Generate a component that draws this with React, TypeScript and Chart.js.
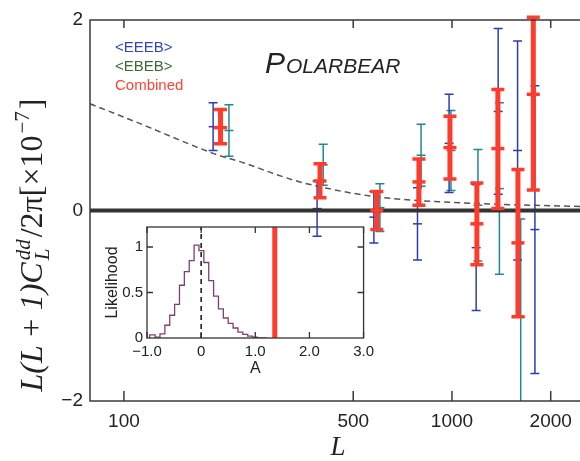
import React, { useEffect, useRef } from 'react';
import { Chart, registerables } from 'chart.js';

Chart.register(...registerables);

// ---------------- main panel data ----------------
const xTickValues = [100, 500, 1000, 2000];
const yTickValues = [-2, 0, 2];
const xMin = 78.8;
const xMax = 2562;
const yMin = -2;
const yMax = 2;

// <EEEB> estimator (blue)
const eeebL = [187, 388, 578, 785, 980, 1185, 1383, 1585, 1790];
const eeebValue = [0.88, 0.02, -0.07, -0.14, 0.705, -0.39, 1.04, 0.63, -0.2];
const eeebError = [0.25, 0.29, 0.27, 0.38, 0.515, 0.66, 0.87, 1.15, 1.51];

// <EBEB> estimator (teal)
const ebebL = [209, 405, 603, 805, 993, 1200, 1395, 1620];
const ebebValue = [0.84, 0.48, 0.03, 0.58, 0.63, 0.055, 0.23, -1.12];
const ebebError = [0.27, 0.215, 0.25, 0.325, 0.42, 0.585, 0.9, 1.03];

// Combined (red)
const combinedL = [197, 396, 590, 793, 986, 1191, 1380, 1589, 1770];
const combinedValue = [0.87, 0.31, 0.0, 0.3, 0.66, -0.14, 0.65, -0.34, 1.22];
const combinedLow = [0.7, 0.135, -0.2, 0.055, 0.33, -0.57, 0.02, -1.115, 0.215];
const combinedHigh = [1.06, 0.49, 0.2, 0.54, 0.99, 0.29, 1.27, 0.43, 2.03];

// theory (dashed)
const theoryL = [78.8, 100, 120, 150, 187, 237, 290, 344, 420, 500, 603, 750, 1000, 1400, 2000, 2562];
const theoryValue = [1.12, 0.98, 0.87, 0.73, 0.6, 0.49, 0.38, 0.3, 0.23, 0.18, 0.14, 0.11, 0.085, 0.065, 0.05, 0.04];

// ---------------- inset data ----------------
const insetXTicks = [-1, 0, 1, 2, 3];
const insetYTicks = [0, 0.5, 1];
const insetXMin = -1;
const insetXMax = 3;
const insetYMax = 1.22;
const histEdges = [-0.95, -0.85, -0.76, -0.67, -0.58, -0.49, -0.4, -0.31, -0.22, -0.13, -0.04, 0.05, 0.14, 0.23, 0.32, 0.41, 0.5, 0.59, 0.68, 0.77, 0.86, 0.95, 1.04, 1.13, 1.22];
const histLikelihood = [0, 0.035, 0.01, 0.045, 0.14, 0.25, 0.37, 0.58, 0.73, 0.85, 1.02, 0.96, 0.83, 0.63, 0.46, 0.32, 0.22, 0.16, 0.11, 0.065, 0.04, 0.02, 0.008, 0];
const measuredA = 1.36;

// ---------------- styles ----------------
const SANS = '"Liberation Sans", Arial, Helvetica, sans-serif';
const SERIF = '"Liberation Serif", "Times New Roman", serif';
const BLUE = '#2c3db3';
const TEAL = '#1f8890';
const RED = '#ff3b2b';
const INK = '#222222';

function errPoints(L: number[], v: number[], lo: number[], hi: number[]) {
  return L.map((l, i) => ({ x: l, y: v[i], yMin: lo[i], yMax: hi[i] }));
}
function symPoints(L: number[], v: number[], e: number[]) {
  return L.map((l, i) => ({ x: l, y: v[i], yMin: v[i] - e[i], yMax: v[i] + e[i] }));
}

const errorBarPlugin = {
  id: 'errorBars',
  beforeDatasetDraw(chart: any, args: any) {
    const ds = chart.data.datasets[args.index];
    if (!ds.errorBars) return;
    const { ctx, chartArea } = chart;
    const x = chart.scales.x;
    const y = chart.scales.y;
    const eb = ds.errorBars;
    ctx.save();
    ctx.beginPath();
    ctx.rect(chartArea.left, chartArea.top - 5, chartArea.right - chartArea.left, chartArea.bottom - chartArea.top + 5);
    ctx.clip();
    ctx.strokeStyle = eb.color;
    ds.data.forEach((p: any) => {
      const px = x.getPixelForValue(p.x);
      const top = y.getPixelForValue(p.yMax);
      const bot = y.getPixelForValue(p.yMin);
      ctx.lineWidth = eb.lineWidth;
      ctx.beginPath();
      ctx.moveTo(px, top);
      ctx.lineTo(px, bot);
      ctx.stroke();
      ctx.lineWidth = eb.capWidth;
      ctx.beginPath();
      ctx.moveTo(px - eb.capHalf, top);
      ctx.lineTo(px + eb.capHalf, top);
      ctx.moveTo(px - eb.capHalf, bot);
      ctx.lineTo(px + eb.capHalf, bot);
      ctx.stroke();
    });
    ctx.restore();
  },
};

function drawYTitle(ctx: CanvasRenderingContext2D) {
  const big = 32;
  const small = 21;
  const gap = 2;
  const itBig = `italic ${big}px ${SERIF}`;
  const upBig = `${big}px ${SERIF}`;
  const itSmall = `italic ${small}px ${SERIF}`;
  const upSmall = `${small}px ${SERIF}`;
  const pieces = [
    { t: 'L(L', f: itBig, dy: 0, stack: false },
    { t: '\u2009+\u2009', f: upBig, dy: 0, stack: false },
    { t: '1)C', f: itBig, dy: 0, stack: false },
    { t: 'L', f: itSmall, dy: 7, stack: true },
    { t: 'dd', f: itSmall, dy: -12, stack: false },
    { t: '/2\u03c0[\u00d710', f: upBig, dy: 0, stack: false },
    { t: '\u22127', f: upSmall, dy: -13, stack: false },
    { t: ']', f: upBig, dy: 0, stack: false },
  ];
  let total = 0;
  let pending = 0;
  const widths: number[] = [];
  pieces.forEach((p) => {
    ctx.font = p.f;
    const w = ctx.measureText(p.t).width;
    widths.push(w);
    if (p.stack) {
      pending = w;
    } else {
      total += Math.max(w, pending) + gap;
      pending = 0;
    }
  });
  total -= gap;
  ctx.save();
  ctx.translate(42, 245);
  ctx.rotate(-Math.PI / 2);
  ctx.fillStyle = INK;
  ctx.textBaseline = 'alphabetic';
  ctx.textAlign = 'left';
  let cx = -total / 2;
  pending = 0;
  pieces.forEach((p, i) => {
    ctx.font = p.f;
    ctx.fillText(p.t, cx, p.dy);
    if (p.stack) {
      pending = widths[i];
    } else {
      cx += Math.max(widths[i], pending) + gap;
      pending = 0;
    }
  });
  ctx.restore();
}

const mainDecorPlugin = {
  id: 'mainDecor',
  afterDraw(chart: any) {
    const { ctx, chartArea } = chart;
    const { left, right, top, bottom } = chartArea;
    const x = chart.scales.x;
    ctx.save();
    ctx.strokeStyle = '#3a3a3a';
    ctx.lineWidth = 1.5;
    ctx.strokeRect(left, top, right - left, bottom - top);
    ctx.beginPath();
    xTickValues.forEach((v) => {
      const px = x.getPixelForValue(v);
      ctx.moveTo(px, bottom);
      ctx.lineTo(px, bottom - 10);
      ctx.moveTo(px, top);
      ctx.lineTo(px, top + 8);
    });
    ctx.stroke();
    ctx.textBaseline = 'middle';
    ctx.textAlign = 'left';
    ctx.font = `15px ${SANS}`;
    ctx.fillStyle = '#3344bb';
    ctx.fillText('<EEEB>', 115, 48);
    ctx.fillStyle = '#3a6b30';
    ctx.fillText('<EBEB>', 115, 67);
    ctx.fillStyle = '#ff4433';
    ctx.fillText('Combined', 115, 86);
    ctx.textBaseline = 'alphabetic';
    ctx.fillStyle = INK;
    ctx.font = `italic 30px ${SANS}`;
    ctx.fillText('P', 265, 73);
    const wP = ctx.measureText('P').width;
    ctx.font = `italic 21px ${SANS}`;
    ctx.fillText('OLARBEAR', 265 + wP + 1, 73);
    ctx.restore();
    drawYTitle(ctx);
  },
};

const insetDecorPlugin = {
  id: 'insetDecor',
  afterDraw(chart: any) {
    const { ctx, chartArea } = chart;
    const { left, right, top, bottom } = chartArea;
    const x = chart.scales.x;
    const y = chart.scales.y;
    ctx.save();
    ctx.strokeStyle = '#333';
    ctx.lineWidth = 1.3;
    ctx.strokeRect(left, top, right - left, bottom - top);
    ctx.beginPath();
    insetXTicks.forEach((v) => {
      const px = x.getPixelForValue(v);
      ctx.moveTo(px, bottom);
      ctx.lineTo(px, bottom - 6);
      ctx.moveTo(px, top);
      ctx.lineTo(px, top + 6);
    });
    insetYTicks.forEach((v) => {
      if (v === 0) return;
      const py = y.getPixelForValue(v);
      ctx.moveTo(left, py);
      ctx.lineTo(left + 6, py);
      ctx.moveTo(right, py);
      ctx.lineTo(right - 6, py);
    });
    ctx.stroke();
    ctx.restore();
  },
};

function mainConfig(): any {
  return {
    type: 'scatter',
    data: {
      datasets: [
        {
          label: 'Combined',
          type: 'scatter',
          data: errPoints(combinedL, combinedValue, combinedLow, combinedHigh),
          pointStyle: 'line',
          pointRadius: 6.5,
          pointBorderWidth: 3.5,
          pointBorderColor: RED,
          pointBackgroundColor: RED,
          errorBars: { color: RED, lineWidth: 5, capHalf: 6.5, capWidth: 3.5 },
        },
        {
          label: 'zero',
          type: 'line',
          data: [
            { x: xMin, y: 0 },
            { x: xMax, y: 0 },
          ],
          borderColor: '#333333',
          borderWidth: 4,
          pointRadius: 0,
        },
        {
          label: '<EEEB>',
          type: 'scatter',
          data: symPoints(eeebL, eeebValue, eeebError),
          pointStyle: 'line',
          pointRadius: 4.5,
          pointBorderWidth: 1.5,
          pointBorderColor: BLUE,
          pointBackgroundColor: BLUE,
          errorBars: { color: BLUE, lineWidth: 1.5, capHalf: 4.5, capWidth: 1.5 },
        },
        {
          label: '<EBEB>',
          type: 'scatter',
          data: symPoints(ebebL, ebebValue, ebebError),
          pointStyle: 'line',
          pointRadius: 4.5,
          pointBorderWidth: 1.5,
          pointBorderColor: TEAL,
          pointBackgroundColor: TEAL,
          errorBars: { color: TEAL, lineWidth: 1.5, capHalf: 4.5, capWidth: 1.5 },
        },
        {
          label: 'theory',
          type: 'line',
          data: theoryL.map((l, i) => ({ x: l, y: theoryValue[i] })),
          borderColor: '#555555',
          borderWidth: 1.5,
          borderDash: [6, 4],
          pointRadius: 0,
          cubicInterpolationMode: 'monotone',
        },
      ],
    },
    options: {
      responsive: false,
      animation: false,
      events: [],
      layout: { padding: { left: 8, top: 20, right: 0, bottom: 0 } },
      plugins: { legend: { display: false }, tooltip: { enabled: false } },
      scales: {
        x: {
          type: 'logarithmic',
          position: 'bottom',
          min: xMin,
          max: xMax,
          afterBuildTicks: (s: any) => {
            s.ticks = xTickValues.map((v) => ({ value: v }));
          },
          afterFit: (s: any) => {
            s.height = 60;
          },
          grid: { display: false, drawTicks: false },
          border: { display: false },
          ticks: {
            callback: (v: any) => String(v),
            font: { family: SANS, size: 19 },
            color: INK,
            padding: 9,
            maxRotation: 0,
            autoSkip: false,
          },
          title: {
            display: true,
            text: 'L',
            font: { family: SERIF, size: 27, style: 'italic' },
            color: INK,
            padding: { top: 0, bottom: -3 },
          },
        },
        y: {
          type: 'linear',
          min: yMin,
          max: yMax,
          afterBuildTicks: (s: any) => {
            s.ticks = yTickValues.map((v) => ({ value: v }));
          },
          afterFit: (s: any) => {
            s.width = 82;
          },
          grid: { display: false, drawTicks: false },
          border: { display: false },
          ticks: {
            callback: (v: any) => (v < 0 ? '\u2212' + Math.abs(v) : String(v)),
            font: { family: SANS, size: 19 },
            color: INK,
            padding: 7,
          },
        },
      },
    },
    plugins: [errorBarPlugin, mainDecorPlugin],
  };
}

function insetConfig(): any {
  const histData = histEdges.map((e, i) => ({
    x: e,
    y: i < histLikelihood.length ? histLikelihood[i] : 0,
  }));
  return {
    type: 'line',
    data: {
      datasets: [
        {
          label: 'measured',
          data: [
            { x: measuredA, y: 0 },
            { x: measuredA, y: insetYMax },
          ],
          borderColor: RED,
          borderWidth: 5,
          pointRadius: 0,
        },
        {
          label: 'zero',
          data: [
            { x: 0, y: 0 },
            { x: 0, y: insetYMax },
          ],
          borderColor: '#111',
          borderWidth: 1.5,
          borderDash: [5, 4],
          pointRadius: 0,
        },
        {
          label: 'likelihood',
          data: histData,
          stepped: 'after',
          borderColor: '#7d3f7a',
          borderWidth: 1.3,
          pointRadius: 0,
        },
      ],
    },
    options: {
      responsive: false,
      animation: false,
      events: [],
      layout: { padding: { left: 0, top: 10, right: 8, bottom: 0 } },
      plugins: { legend: { display: false }, tooltip: { enabled: false } },
      scales: {
        x: {
          type: 'linear',
          min: insetXMin,
          max: insetXMax,
          afterBuildTicks: (s: any) => {
            s.ticks = insetXTicks.map((v) => ({ value: v }));
          },
          afterFit: (s: any) => {
            s.height = 40;
          },
          grid: { display: false, drawTicks: false },
          border: { display: false },
          ticks: {
            callback: (v: any) => (v === 0 ? '0' : (v < 0 ? '\u2212' : '') + Math.abs(v).toFixed(1)),
            font: { family: SANS, size: 15 },
            color: INK,
            padding: 5,
            maxRotation: 0,
            autoSkip: false,
          },
          title: {
            display: true,
            text: 'A',
            font: { family: SANS, size: 16 },
            color: INK,
            padding: { top: 0, bottom: 0 },
          },
        },
        y: {
          type: 'linear',
          min: 0,
          max: insetYMax,
          afterBuildTicks: (s: any) => {
            s.ticks = insetYTicks.map((v) => ({ value: v }));
          },
          afterFit: (s: any) => {
            s.width = 47;
          },
          grid: { display: false, drawTicks: false },
          border: { display: false },
          ticks: {
            callback: (v: any) => String(v),
            font: { family: SANS, size: 15 },
            color: INK,
            padding: 4,
          },
          title: {
            display: true,
            text: 'Likelihood',
            font: { family: SANS, size: 16 },
            color: INK,
            padding: { top: 3, bottom: 0 },
          },
        },
      },
    },
    plugins: [insetDecorPlugin],
  };
}

export default function App() {
  const mainRef = useRef<HTMLCanvasElement>(null);
  const insetRef = useRef<HTMLCanvasElement>(null);

  useEffect(() => {
    const main = new Chart(mainRef.current as HTMLCanvasElement, mainConfig());
    const inset = new Chart(insetRef.current as HTMLCanvasElement, insetConfig());
    return () => {
      main.destroy();
      inset.destroy();
    };
  }, []);

  return (
    <div
      style={{
        position: 'fixed',
        left: 0,
        top: 0,
        width: 580,
        height: 461,
        overflow: 'hidden',
        background: '#ffffff',
      }}
    >
      <canvas ref={insetRef} width={279} height={164} style={{ position: 'absolute', left: 100, top: 214 }} />
      <canvas ref={mainRef} width={596} height={461} style={{ position: 'absolute', left: 0, top: 0 }} />
    </div>
  );
}
